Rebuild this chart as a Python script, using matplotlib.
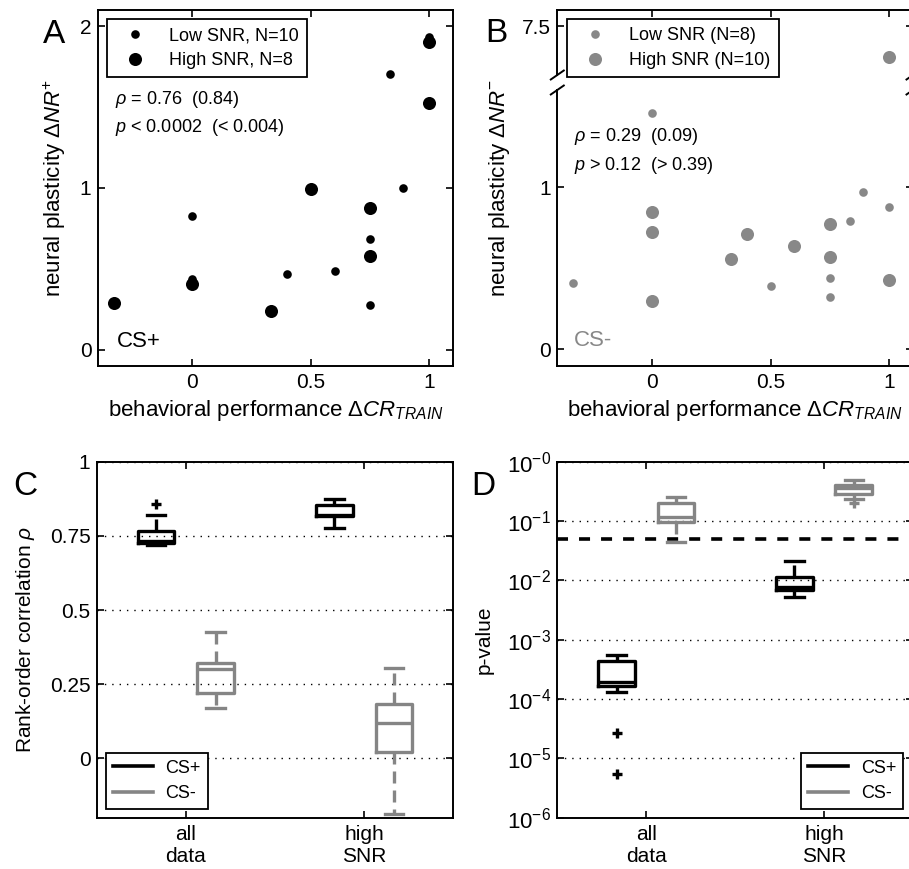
import numpy as np
import matplotlib
matplotlib.use("Agg")
import matplotlib.pyplot as plt
from matplotlib.lines import Line2D
from matplotlib.ticker import NullLocator

# ---------------- data ----------------
# Panel A: CS+ neural plasticity vs behavioural performance
a_low_x = [0.833, 1.0, 0.889, 0.0, 0.0, 0.4, 0.6, 0.75, 0.75]
a_low_y = [1.707, 1.934, 1.0, 0.825, 0.438, 0.469, 0.483, 0.683, 0.278]
a_high_x = [-0.333, 0.0, 0.333, 0.5, 0.75, 0.75, 1.0, 1.0]
a_high_y = [0.290, 0.403, 0.236, 0.994, 0.878, 0.580, 1.527, 1.899]

# Panel B: CS- neural plasticity vs behavioural performance
b_low_x = [-0.333, 0.0, 0.5, 0.75, 0.75, 0.833, 0.889, 1.0]
b_low_y = [0.411, 1.461, 0.393, 0.438, 0.325, 0.794, 0.969, 0.876]
b_high_x = [0.0, 0.0, 0.0, 0.333, 0.4, 0.6, 0.75, 0.75, 1.0, 1.0]
b_high_y = [0.846, 0.724, 0.296, 0.557, 0.714, 0.638, 0.775, 0.572, 0.426, 7.31]

# Panels C/D: bootstrap summaries per data subset
groups = ["all\ndata", "high\nSNR"]

rho_plus_whislo = [0.719, 0.775]
rho_plus_q1 = [0.727, 0.817]
rho_plus_med = [0.733, 0.822]
rho_plus_q3 = [0.765, 0.854]
rho_plus_whishi = [0.820, 0.873]
rho_plus_fliers = [[0.857], []]

rho_minus_whislo = [0.170, -0.188]
rho_minus_q1 = [0.219, 0.020]
rho_minus_med = [0.301, 0.118]
rho_minus_q3 = [0.322, 0.182]
rho_minus_whishi = [0.427, 0.305]
rho_minus_fliers = [[], []]

p_plus_whislo = [1.32e-4, 5.3e-3]
p_plus_q1 = [1.65e-4, 6.9e-3]
p_plus_med = [1.9e-4, 7.85e-3]
p_plus_q3 = [4.4e-4, 1.12e-2]
p_plus_whishi = [5.5e-4, 2.14e-2]
p_plus_fliers = [[2.7e-5, 5.4e-6], []]

p_minus_whislo = [0.0448, 0.232]
p_minus_q1 = [0.098, 0.285]
p_minus_med = [0.115, 0.36]
p_minus_q3 = [0.204, 0.405]
p_minus_whishi = [0.257, 0.49]
p_minus_fliers = [[], [0.204]]

p_threshold = 0.05

# ---------------- style ----------------
plt.rcParams.update({
    "font.family": ["Liberation Sans", "DejaVu Sans"],
    "mathtext.fontset": "custom",
    "mathtext.rm": "Liberation Sans",
    "mathtext.it": "Liberation Sans:italic",
    "mathtext.bf": "Liberation Sans:bold",
    "mathtext.sf": "Liberation Sans",
    "font.size": 15,
    "axes.linewidth": 1.4,
    "xtick.direction": "in",
    "ytick.direction": "in",
    "xtick.top": True,
    "ytick.right": True,
    "xtick.major.size": 5,
    "ytick.major.size": 5,
    "xtick.major.width": 1.2,
    "ytick.major.width": 1.2,
    "xtick.major.pad": 5,
    "ytick.major.pad": 4.5,
    "xtick.labelsize": 15,
    "ytick.labelsize": 15,
    "axes.labelsize": 15,
    "legend.fontsize": 13,
    "legend.fancybox": False,
    "legend.edgecolor": "k",
    "legend.framealpha": 1,
})

GRAY = "#888888"
BOXGRAY = "#858585"
SMALL, LARGE = 6.2, 9.4
SCATTER_LABEL = 16

W, H = 909, 869
fig = plt.figure(figsize=(W / 100, H / 100), dpi=100)


def rect(l, t, r, b):
    return [l / W, 1 - b / H, (r - l) / W, (b - t) / H]


axA = fig.add_axes(rect(97.7, 10, 453, 365.7))
axB = fig.add_axes(rect(557.3, 90, 913, 365.7))
axBt = fig.add_axes(rect(557.3, 10, 913, 75))
axC = fig.add_axes(rect(96.7, 461.7, 453.3, 817.7))
axD = fig.add_axes(rect(557.3, 461.7, 913, 817.7))

xt = [0, 0.5, 1]
xtl = ["0", "0.5", "1"]

# ---------------- panel A ----------------
axA.plot(a_low_x, a_low_y, "o", ms=SMALL, mew=0, color="k", label="Low SNR, N=10")
axA.plot(a_high_x, a_high_y, "o", ms=LARGE, mew=0, color="k", label="High SNR, N=8")
axA.set_xlim(-0.4, 1.1)
axA.set_ylim(-0.1, 2.1)
axA.set_xticks(xt)
axA.set_xticklabels(xtl)
axA.set_yticks([0, 1, 2])
axA.set_yticklabels(["0", "1", "2"])
axA.set_xlabel(r"behavioral performance $\Delta CR_{TRAIN}$", fontsize=SCATTER_LABEL)
axA.xaxis.set_label_coords(0.5, -0.091)
axA.set_ylabel(r"neural plasticity $\Delta NR^{+}$", fontsize=SCATTER_LABEL)
axA.yaxis.set_label_coords(-0.083, 0.5)
axA.legend(loc="upper left", bbox_to_anchor=(0.026, 0.975), borderaxespad=0,
           numpoints=1, handlelength=2.2, handletextpad=0.8, labelspacing=0.45,
           borderpad=0.45).get_frame().set_linewidth(1.3)
axA.text(0.049, 0.747, r"$\rho$ = 0.76  (0.84)", transform=axA.transAxes,
         fontsize=13, va="center", ha="left")
axA.text(0.049, 0.669, r"$p$ < 0.0002  (< 0.004)", transform=axA.transAxes,
         fontsize=13, va="center", ha="left")
axA.text(0.053, 0.0675, "CS+", transform=axA.transAxes, fontsize=16,
         va="center", ha="left", color="k")

# ---------------- panel B (broken y axis) ----------------
for ax in (axB, axBt):
    ax.plot(b_low_x, b_low_y, "o", ms=SMALL, mew=0, color=GRAY, label="Low SNR (N=8)")
    ax.plot(b_high_x, b_high_y, "o", ms=LARGE, mew=0, color=GRAY, label="High SNR (N=10)")
    ax.set_xlim(-0.4, 1.1)
    ax.set_xticks(xt)
axB.set_xticklabels(xtl)
axB.set_ylim(-0.1, 1.6)
axB.set_yticks([0, 1])
axB.set_yticklabels(["0", "1"])
axB.spines["top"].set_visible(False)
axB.tick_params(axis="x", top=False)
axBt.set_ylim(7.2, 7.6)
axBt.set_yticks([7.5])
axBt.set_yticklabels(["7.5"])
axBt.spines["bottom"].set_visible(False)
axBt.tick_params(axis="x", bottom=False, labelbottom=False, top=True)
axB.set_xlabel(r"behavioral performance $\Delta CR_{TRAIN}$", fontsize=SCATTER_LABEL)
axB.xaxis.set_label_coords(0.5, -0.117)
fig.text(511.7 / W, 1 - 188 / H, r"neural plasticity $\Delta NR^{-}$",
         rotation=90, ha="right", va="center", fontsize=SCATTER_LABEL)
axBt.legend(loc="upper left", bbox_to_anchor=(0.027, 0.862), borderaxespad=0,
            numpoints=1, handlelength=2.2, handletextpad=0.8, labelspacing=0.45,
            borderpad=0.45).get_frame().set_linewidth(1.3)
axB.text(0.047, 0.831, r"$\rho$ = 0.29  (0.09)", transform=axB.transAxes,
         fontsize=13, va="center", ha="left")
axB.text(0.047, 0.725, r"$p$ > 0.12  (> 0.39)", transform=axB.transAxes,
         fontsize=13, va="center", ha="left")
axB.text(0.047, 0.093, "CS-", transform=axB.transAxes, fontsize=16,
         va="center", ha="left", color=GRAY)

# diagonal break marks on both spines
for ax, y0, hpx in ((axBt, 0.0, 65.0), (axB, 1.0, 275.7)):
    for x0 in (0.0, 1.0):
        ax.plot([x0 - 6.5 / 355.7, x0 + 6.5 / 355.7], [y0 - 4.5 / hpx, y0 + 4.5 / hpx],
                transform=ax.transAxes, color="k", lw=1.4, clip_on=False)


# ---------------- box plot helpers ----------------
def make_stats(lo, q1, med, q3, hi, fl):
    return [dict(whislo=a, q1=b, med=c, q3=d, whishi=e, fliers=f)
            for a, b, c, d, e, f in zip(lo, q1, med, q3, hi, fl)]


def draw_boxes(ax, stats, positions, color):
    lw = 2.4
    ax.bxp(stats, positions=positions, widths=0.205, manage_ticks=False,
           boxprops=dict(color=color, lw=lw),
           medianprops=dict(color=color, lw=lw),
           whiskerprops=dict(color=color, lw=lw, ls=(0, (3.6, 2.1))),
           capprops=dict(color=color, lw=lw),
           flierprops=dict(marker="+", markeredgecolor=color, markersize=7,
                           markeredgewidth=2.4, linestyle="none"))


pos = np.array([1.0, 2.0])
off = 1 / 6
grid_ls = (0, (1, 4.3))


def box_legend(ax, anchor, loc):
    handles = [Line2D([], [], color="k", lw=2.6), Line2D([], [], color=BOXGRAY, lw=2.6)]
    leg = ax.legend(handles, ["CS+", "CS-"], loc=loc, bbox_to_anchor=anchor,
                    borderaxespad=0, handlelength=2.2, handletextpad=0.7,
                    labelspacing=0.45, borderpad=0.4)
    leg.get_frame().set_linewidth(1.3)


# ---------------- panel C ----------------
axC.set_axisbelow(True)
axC.yaxis.grid(True, ls=grid_ls, lw=1.0, color="k")
draw_boxes(axC, make_stats(rho_plus_whislo, rho_plus_q1, rho_plus_med, rho_plus_q3,
                           rho_plus_whishi, rho_plus_fliers), pos - off, "k")
draw_boxes(axC, make_stats(rho_minus_whislo, rho_minus_q1, rho_minus_med, rho_minus_q3,
                           rho_minus_whishi, rho_minus_fliers), pos + off, BOXGRAY)
axC.set_xlim(0.5, 2.5)
axC.set_ylim(-0.2, 1.0)
axC.set_xticks(pos)
axC.set_xticklabels(groups)
axC.set_yticks([0, 0.25, 0.5, 0.75, 1])
axC.set_yticklabels(["0", "0.25", "0.5", "0.75", "1"])
axC.set_ylabel(r"Rank-order correlation $\rho$")
axC.yaxis.set_label_coords(-0.168, 0.5)
box_legend(axC, (0.026, 0.024), "lower left")

# ---------------- panel D ----------------
axD.set_yscale("log")
axD.set_axisbelow(True)
axD.set_ylim(1e-6, 1.0)
decades = [10.0 ** k for k in range(-6, 1)]
axD.set_yticks(decades)
axD.set_yticklabels([r"$10^{-%d}$" % (-k) for k in range(-6, 1)], fontsize=16)
axD.yaxis.set_minor_locator(NullLocator())
axD.yaxis.grid(True, ls=grid_ls, lw=1.0, color="k")
axD.axhline(p_threshold, color="k", lw=2.6, ls=(0, (3.05, 3.05)))
draw_boxes(axD, make_stats(p_plus_whislo, p_plus_q1, p_plus_med, p_plus_q3,
                           p_plus_whishi, p_plus_fliers), pos - off, "k")
draw_boxes(axD, make_stats(p_minus_whislo, p_minus_q1, p_minus_med, p_minus_q3,
                           p_minus_whishi, p_minus_fliers), pos + off, BOXGRAY)
axD.set_xlim(0.5, 2.5)
axD.set_xticks(pos)
axD.set_xticklabels(groups)
axD.set_ylabel("p-value")
axD.yaxis.set_label_coords(-0.18, 0.5)
box_legend(axD, (0.973, 0.024), "lower right")

# ---------------- panel letters ----------------
for letter, x, y in (("A", 43, 42.7), ("B", 485, 41.7), ("C", 13, 495), ("D", 471.7, 495)):
    fig.text(x / W, 1 - y / H, letter, fontsize=24, ha="left", va="baseline")

fig.savefig("out.png", dpi=100)
